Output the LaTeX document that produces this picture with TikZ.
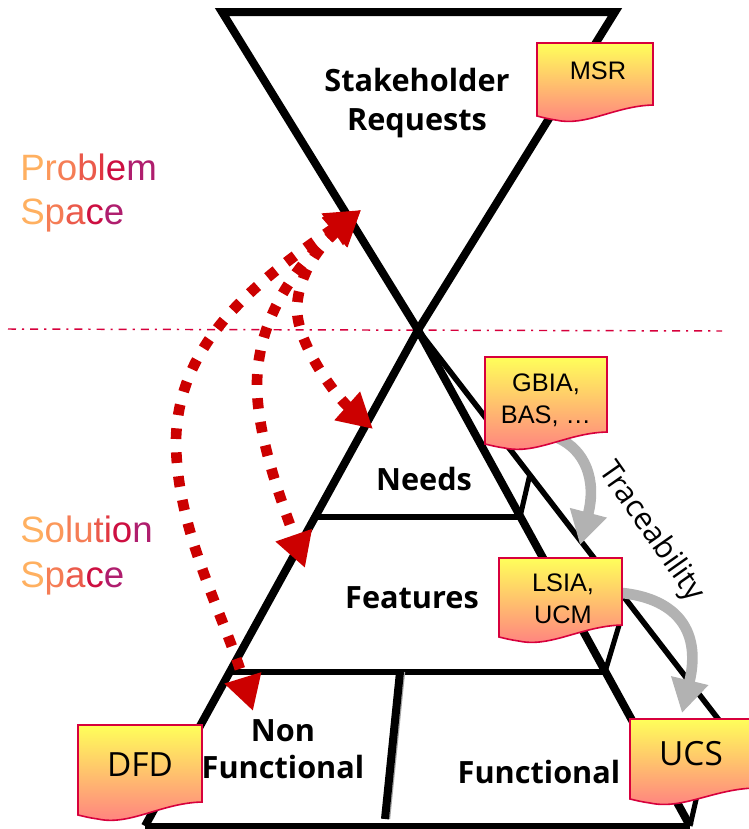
\documentclass[tikz,border=0pt]{standalone}
\usepackage{fontspec}
\usetikzlibrary{arrows.meta}
\setmainfont{Liberation Sans}
\newfontfamily\labfont{Open Sans}
\definecolor{gA}{RGB}{255,176,96}
\definecolor{gB}{RGB}{252,152,90}
\definecolor{gC}{RGB}{245,125,85}
\definecolor{gD}{RGB}{235,90,75}
\definecolor{gE}{RGB}{225,55,65}
\definecolor{gF}{RGB}{205,15,65}
\definecolor{gG}{RGB}{175,30,110}
\definecolor{redarrow}{RGB}{204,0,0}
\definecolor{greyarrow}{RGB}{178,178,178}
\definecolor{crim}{RGB}{215,0,60}
\definecolor{noteTop}{RGB}{255,255,90}
\definecolor{noteBot}{RGB}{255,125,130}
\tikzset{
  x=0.75pt,y=-0.75pt,
  thickedge/.style={line width=6pt,line cap=butt,line join=miter},
  thinedge/.style={line width=4.2pt,line cap=butt},
  redlink/.style={redarrow,line width=8pt,dash pattern=on 8pt off 10pt,
     {Triangle[length=26pt,width=27pt]}-{Triangle[length=26pt,width=27pt]}},
  greylink/.style={greyarrow,line width=8pt,-{Triangle[length=25pt,width=27pt]}},
  labeltext/.style={font=\labfont\bfseries\fontsize{23}{27}\selectfont,anchor=base,black,inner sep=0pt},
  spacetext/.style={font=\fontsize{27.5}{32}\selectfont,anchor=base west,inner sep=0pt},
  notetext/.style={font=\fontsize{19}{24}\selectfont,align=center,black,inner sep=0pt},
  notetextb/.style={font=\labfont\fontsize{25}{28}\selectfont,align=center,black,inner sep=0pt},
  noteshape/.style={draw=crim,line width=1.2pt,top color=noteTop,bottom color=noteBot}
}
% #1 x1, #2 y-top, #3 x2, #4 y right bottom, #5 y left bottom
\newcommand\notepaper[5]{%
  \path[noteshape] (#1,#2) -- (#3,#2) -- (#3,#4)
    .. controls ({#3-0.33*(#3-#1)},{#4+1}) and ({#1+0.42*(#3-#1)},{#5+11}) .. ({#1+0.16*(#3-#1)},{#5+4})
    .. controls ({#1+0.1*(#3-#1)},{#5+3}) and ({#1+0.05*(#3-#1)},{#5+1.5}) .. (#1,#5) -- cycle;}
\begin{document}
\begin{tikzpicture}
\useasboundingbox (0,0) rectangle (749,829);
\fill[white] (0,0) rectangle (749,829);
% structure points
\coordinate (waist) at (418,330);
\coordinate (topL) at (222,12);
\coordinate (topR) at (615,12);
\coordinate (botL) at (145,826);
\coordinate (botR) at (690,826);
\coordinate (needL) at (315,517);
\coordinate (needR) at (520,517);
\coordinate (featL) at (230,672);
\coordinate (featR) at (605,672);
\coordinate (ridgeEnd) at (722,724);
\coordinate (ridgeA) at (530,474);
\coordinate (ridgeB) at (620,622);
\coordinate (ridgeC) at (701,778);
\coordinate (divT) at (400,672);
\coordinate (divB) at (385,819);
% dash-dot boundary
\draw[crim,line width=1.1pt,dash pattern=on 6pt off 4.5pt on 1.6pt off 4.5pt] (8,329) -- (722,331);
% funnel and pyramid
\draw[thickedge] (waist) -- (topL) -- (topR) -- (waist) -- cycle;
\draw[thickedge] (waist) -- (botL);
\draw[thickedge] (waist) -- (botR);
\draw[line width=4.2pt] (botL) -- (botR);
\draw[line width=4.2pt] (needL) -- (needR);
\draw[line width=4.2pt] (featL) -- (featR);
\draw[thinedge] (waist) -- (ridgeEnd);
\draw[line width=3.8pt] (needR) -- (ridgeA);
\draw[line width=3.8pt] (featR) -- (ridgeB);
\draw[line width=3.8pt] (botR) -- (ridgeC);
\draw[gray!70,line width=1pt] ([xshift=3.4pt]divT) -- ([xshift=3.4pt]divB);
\draw[line width=6pt] (divT) -- (divB);
% labels
\node[labeltext] (stake) at (417,91) {Stakeholder};
\node[labeltext] (req) at (417,130) {Requests};
\node[labeltext] (needs) at (424,490) {Needs};
\node[labeltext] (feat) at (412,608) {Features};
\node[labeltext] (nonf) at (283,741) {Non};
\node[labeltext] (nonfb) at (283,778) {Functional};
\node[labeltext] (func) at (539,783) {Functional};
% problem / solution
\node[spacetext] (prob) at (20,180) {\textcolor{gA}{P}\textcolor{gB}{r}\textcolor{gC}{o}\textcolor{gD}{b}\textcolor{gE}{l}\textcolor{gF}{e}\textcolor{gG}{m}};
\node[spacetext] (probb) at (20,224) {\textcolor{gA}{S}\textcolor{gC}{p}\textcolor{gD}{a}\textcolor{gF}{c}\textcolor{gG}{e}};
\node[spacetext] (sol) at (20,542) {\textcolor{gA}{S}\textcolor{gB}{o}\textcolor{gC}{l}\textcolor{gC}{u}\textcolor{gD}{t}\textcolor{gE}{i}\textcolor{gF}{o}\textcolor{gG}{n}};
\node[spacetext] (solb) at (20,587) {\textcolor{gA}{S}\textcolor{gC}{p}\textcolor{gD}{a}\textcolor{gF}{c}\textcolor{gG}{e}};
% red links
\coordinate (tipTop) at (361,210);
\coordinate (tipNeeds) at (373,429);
\coordinate (tipFeat) at (305,568);
\coordinate (tipNF) at (253,711);
\draw[redlink] (tipTop) .. controls (250,285) and (178,345) .. (176,440) .. controls (176,530) and (222,610) .. (tipNF);
\draw[redlink] (tipTop) .. controls (295,265) and (257,320) .. (257,385) .. controls (257,440) and (285,510) .. (tipFeat);
\draw[redlink] (tipTop) .. controls (315,250) and (297,280) .. (297,310) .. controls (298,345) and (335,395) .. (tipNeeds);
% grey links
\coordinate (tipLS) at (580,545);
\coordinate (tipUC) at (682,713);
\coordinate (startGB) at (558,438);
\coordinate (startLS) at (622,593);
\draw[greylink] (startGB) .. controls (585,450) and (597,480) .. (tipLS);
\draw[greylink] (startLS) .. controls (670,598) and (703,625) .. (tipUC);
% traceability
\node[font=\labfont\fontsize{23}{26}\selectfont,rotate=-55,inner sep=0pt] (trace) at (651,532) {Traceability};
% notes
\notepaper{537}{43}{653}{105}{116}
\node[notetext] (msr) at (598,71) {MSR};
\notepaper{485}{357}{607}{432}{444}
\node[notetext] (gbia) at (546,400) {GBIA,\\BAS, \ldots};
\notepaper{499}{558}{622}{625}{637}
\node[notetext] (lsia) at (563,599) {LSIA,\\UCM};
\notepaper{630}{719}{755}{788}{799}
\node[notetextb] (ucs) at (691,754) {UCS};
\notepaper{78}{725}{202}{802}{815}
\node[notetextb] (dfd) at (140,765) {DFD};
\end{tikzpicture}
\end{document}
